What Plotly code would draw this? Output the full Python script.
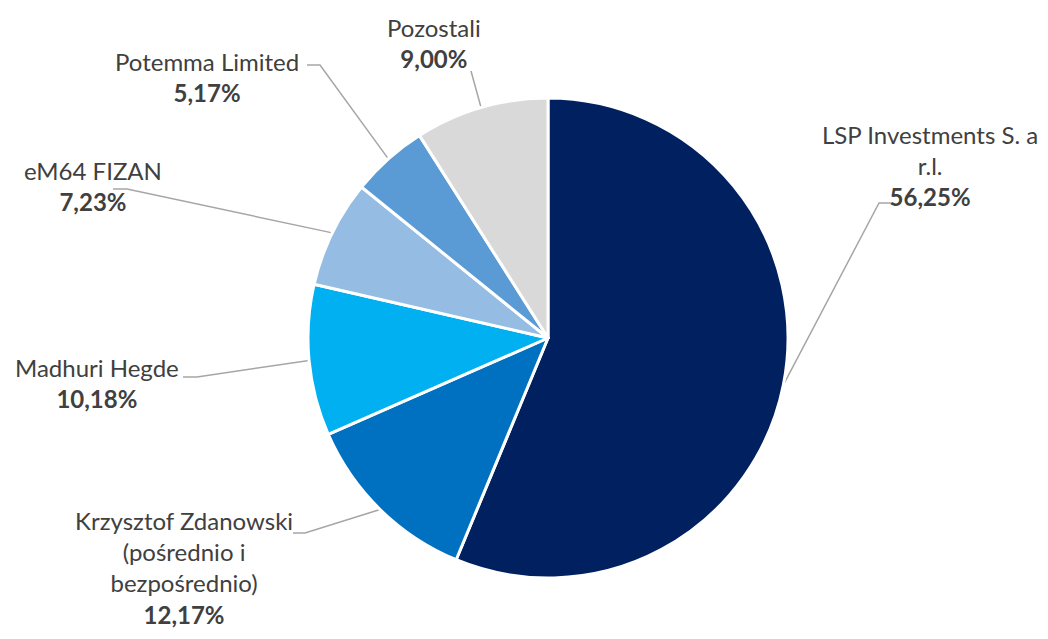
import math
import plotly.graph_objects as go

# page body has an 8px margin, so the figure is drawn 8px in from the window edge
OFF = 8
W, H = 1048, 639

# ---- data ----
names = ["LSP Investments S. a<br>r.l.",
         "Krzysztof Zdanowski<br>(pośrednio i<br>bezpośrednio)",
         "Madhuri Hegde",
         "eM64 FIZAN",
         "Potemma Limited",
         "Pozostali"]
values = [56.25, 12.17, 10.18, 7.23, 5.17, 9.00]
value_labels = ["56,25%", "12,17%", "10,18%", "7,23%", "5,17%", "9,00%"]
colors = ["#002060", "#0070C0", "#00B0F0", "#95BDE3", "#5B9BD5", "#D9D9D9"]

# ---- layout config (window pixels) ----
cx, cy, R = 548, 338, 240
label_pos = [(930, 165), (184, 567), (97, 383), (93, 186), (207, 77), (434, 43)]
elbows = [[(879, 203), (891, 203)],
          [(305, 533), (293, 533)],
          [(197, 377), (183, 377)],
          [(127, 189), (113, 189)],
          [(320, 65), (307, 65)],
          [(471, 71)]]

FONT = "Lato"
TXT = "#404040"
FW, FH = W - 2 * OFF, H - 2 * OFF
XR = [OFF, OFF + FW]
YR = [OFF + FH, OFF]

fig = go.Figure()
fig.add_trace(go.Pie(
    values=values, labels=[n.replace("<br>", " ") for n in names],
    sort=False, direction="clockwise", rotation=0,
    marker=dict(colors=colors, line=dict(color="white", width=3)),
    textinfo="none", hoverinfo="label+percent", showlegend=False,
    domain=dict(x=[(cx - R - OFF) / FW, (cx + R - OFF) / FW],
                y=[(OFF + FH - cy - R) / FH, (OFF + FH - cy + R) / FH]),
))

total = sum(values)
cum = 0.0
for i, v in enumerate(values):
    mid = (cum + v / 2) / total * 2 * math.pi
    cum += v
    ex = cx + R * math.sin(mid)
    ey = cy - R * math.cos(mid)
    pts = [(ex, ey)] + elbows[i]
    fig.add_trace(go.Scatter(
        x=[p[0] for p in pts], y=[p[1] for p in pts], mode="lines",
        line=dict(color="#A6A6A6", width=1.5), hoverinfo="skip",
        showlegend=False, xaxis="x", yaxis="y"))
    lx, ly = label_pos[i]
    fig.add_annotation(
        x=lx, y=ly, xref="x", yref="y", showarrow=False,
        text=f"{names[i]}<br><b>{value_labels[i]}</b>",
        align="center", xanchor="center", yanchor="middle",
        font=dict(family=FONT, size=24, color=TXT))

fig.update_layout(
    width=FW, height=FH,
    margin=dict(l=0, r=0, t=0, b=0),
    paper_bgcolor="white", plot_bgcolor="rgba(0,0,0,0)",
    xaxis=dict(range=XR, visible=False, fixedrange=True),
    yaxis=dict(range=YR, visible=False, fixedrange=True),
)
fig.write_html("out.html")
